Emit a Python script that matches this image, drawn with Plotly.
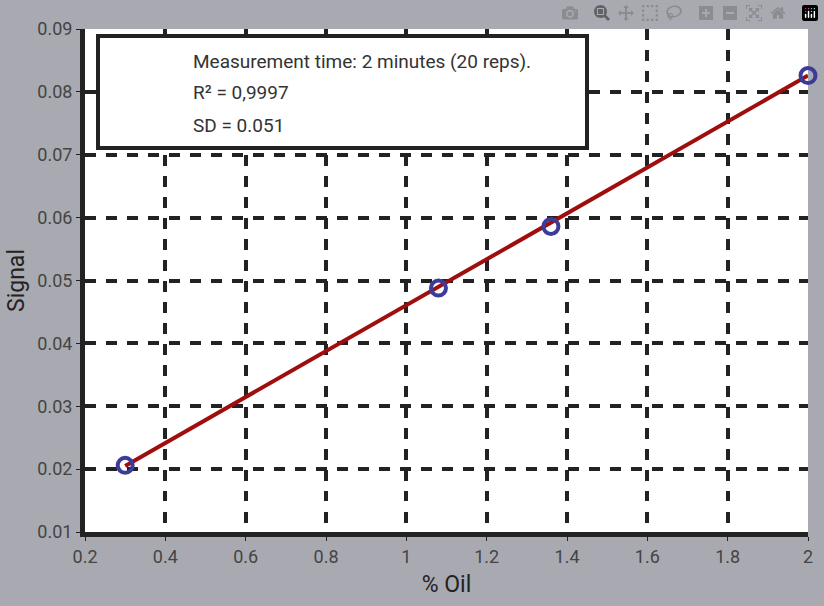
import plotly.graph_objects as go

oil = [0.30, 1.08, 1.36, 2.0]
signal = [0.0206, 0.0488, 0.0586, 0.0826]
fit_x = [0.30, 2.0]
fit_y = [0.0205, 0.0826]
info_lines = ["Measurement time: 2 minutes (20 reps).", "R² = 0,9997", "SD = 0.051"]

W, H = 824, 606
L, R, T, B = 85, 808, 29, 532
def px(x): return (x - L) / (R - L)
def py(y): return (B - y) / (B - T)

fig = go.Figure()
fig.add_trace(go.Scatter(x=fit_x, y=fit_y, mode="lines", line=dict(color="#a00d0d", width=4), showlegend=False, cliponaxis=False))
fig.add_trace(go.Scatter(x=oil, y=signal, mode="markers", cliponaxis=False,
    marker=dict(symbol="circle-open", size=15, color="#3b3b98", line=dict(width=4, color="#3b3b98")), showlegend=False))

fig.add_shape(type="rect", xref="paper", yref="paper", x0=px(98), x1=px(587), y0=py(148), y1=py(36),
              line=dict(color="#222", width=4), fillcolor="white", layer="above")
for i, t in enumerate(info_lines):
    fig.add_annotation(xref="paper", yref="paper", x=px(191), y=py(61 + 32 * i), text=t, showarrow=False,
                       xanchor="left", yanchor="middle", font=dict(size=19, color="#333", family="Roboto"))

axis_common = dict(showgrid=True, gridcolor="#222", gridwidth=3.5, griddash="dash", zeroline=False,
                   ticks="outside", ticklen=4, tickcolor="#222",
                   tickfont=dict(size=18, color="#444", family="Roboto"))
fig.update_xaxes(range=[0.2, 2.0], tickvals=[0.2,0.4,0.6,0.8,1,1.2,1.4,1.6,1.8,2],
                 ticktext=["0.2","0.4","0.6","0.8","1","1.2","1.4","1.6","1.8","2"],
                 showline=True, linecolor="#222", linewidth=5,
                 title=dict(text="% Oil", font=dict(size=23, color="#222", family="Roboto"), standoff=12), **axis_common)
fig.update_yaxes(range=[0.01, 0.09], dtick=0.01, tickformat=".2f",
                 showline=True, linecolor="#222", linewidth=5,
                 title=dict(text="Signal", font=dict(size=23, color="#222", family="Roboto"), standoff=8), **axis_common)

fig.update_layout(width=W, height=H, margin=dict(l=L, r=W - R, t=T, b=H - B),
                  paper_bgcolor="#a9aab1", plot_bgcolor="white")
fig.write_html("out.html", post_script="document.body.style.margin='0';")
